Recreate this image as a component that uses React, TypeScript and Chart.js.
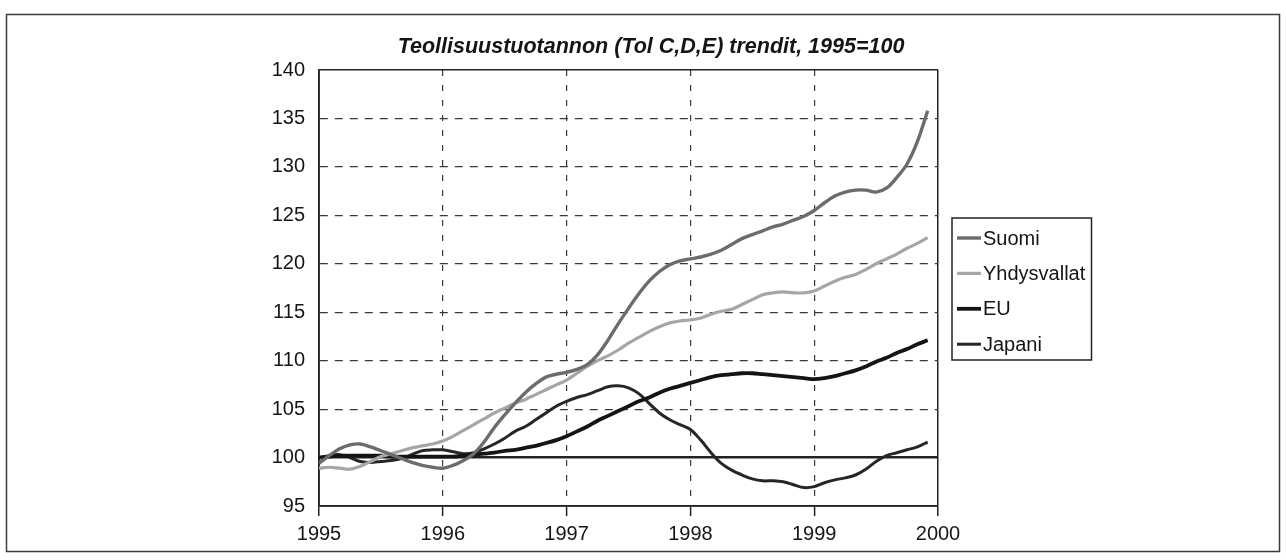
import React, { useEffect, useRef } from 'react';
import { Chart, registerables } from 'chart.js';

Chart.register(...registerables);

// ---- data (monthly trend values, Jan 1995 .. Dec 1999) ----
const startYear = 1995;
const monthsPerYear = 12;

const suomi = [
  99.4, 100.2, 100.9, 101.3, 101.4, 101.1, 100.7, 100.3, 99.9, 99.5, 99.2, 99.0,
  98.9, 99.2, 99.7, 100.4, 101.6, 103.1, 104.4, 105.6, 106.7, 107.6, 108.3, 108.6,
  108.8, 109.1, 109.6, 110.6, 112.1, 113.8, 115.4, 116.9, 118.2, 119.2, 119.9, 120.3,
  120.5, 120.7, 121.0, 121.4, 122.0, 122.6, 123.0, 123.4, 123.8, 124.1, 124.5, 124.9,
  125.5, 126.3, 127.0, 127.4, 127.6, 127.6, 127.4, 127.8, 128.9, 130.3, 132.6, 135.8,
];

const yhdysvallat = [
  98.9, 99.0, 98.9, 98.8, 99.1, 99.6, 100.1, 100.4, 100.7, 101.0, 101.2, 101.4,
  101.7, 102.2, 102.8, 103.4, 104.0, 104.6, 105.1, 105.6, 106.0, 106.5, 107.0, 107.5,
  108.0, 108.7, 109.4, 110.0, 110.5, 111.1, 111.8, 112.4, 113.0, 113.5, 113.9, 114.1,
  114.2, 114.4, 114.8, 115.1, 115.3, 115.8, 116.3, 116.8, 117.0, 117.1, 117.0, 117.0,
  117.2, 117.7, 118.2, 118.6, 118.9, 119.4, 120.0, 120.5, 121.0, 121.6, 122.1, 122.7,
];

const eu = [
  100.0, 100.1, 100.2, 100.2, 100.2, 100.2, 100.2, 100.1, 100.1, 100.1, 100.1, 100.1,
  100.1, 100.1, 100.2, 100.3, 100.4, 100.5, 100.7, 100.8, 101.0, 101.2, 101.5, 101.8,
  102.2, 102.7, 103.2, 103.8, 104.3, 104.8, 105.3, 105.8, 106.2, 106.7, 107.1, 107.4,
  107.7, 108.0, 108.3, 108.5, 108.6, 108.7, 108.7, 108.6, 108.5, 108.4, 108.3, 108.2,
  108.1, 108.2, 108.4, 108.7, 109.0, 109.4, 109.9, 110.3, 110.8, 111.2, 111.7, 112.1,
];

const japani = [
  100.0, 100.2, 100.3, 100.0, 99.6, 99.5, 99.6, 99.7, 99.9, 100.3, 100.7, 100.8,
  100.8, 100.6, 100.4, 100.5, 100.9, 101.4, 102.0, 102.7, 103.2, 103.9, 104.6, 105.3,
  105.8, 106.2, 106.5, 106.9, 107.3, 107.4, 107.2, 106.6, 105.6, 104.6, 103.9, 103.4,
  102.9, 101.8, 100.5, 99.4, 98.7, 98.2, 97.8, 97.6, 97.6, 97.5, 97.2, 96.9,
  97.0, 97.4, 97.7, 97.9, 98.2, 98.8, 99.6, 100.2, 100.5, 100.8, 101.1, 101.6,
];

const seriesNames = ['Suomi', 'Yhdysvallat', 'EU', 'Japani'];
const xTickLabels = ['1995', '1996', '1997', '1998', '1999', '2000'];
const yTickLabels = ['95', '100', '105', '110', '115', '120', '125', '130', '135', '140'];
const titleText = 'Teollisuustuotannon (Tol C,D,E) trendit, 1995=100';
const baseValue = 100;
const yMin = 95;
const yMax = 140;
const xMin = 1995;
const xMax = 2000;

const toPoints = (vals: number[]) =>
  vals.map((v, i) => ({ x: startYear + i / monthsPerYear, y: v }));

function hasFont(name: string): boolean {
  try {
    const c = document.createElement('canvas').getContext('2d');
    if (!c) return false;
    const s = 'Yhdysvallat 1995 Teollisuus';
    c.font = '40px monospace';
    const a = c.measureText(s).width;
    c.font = `40px "${name}", monospace`;
    const b = c.measureText(s).width;
    return Math.abs(a - b) > 0.5;
  } catch (e) {
    return false;
  }
}

export default function App() {
  const canvasRef = useRef<HTMLCanvasElement | null>(null);

  useEffect(() => {
    const canvas = canvasRef.current;
    if (!canvas) return;

    const narrow = hasFont('Liberation Sans Narrow');
    const FONT = narrow
      ? '"Liberation Sans Narrow", "Liberation Sans", Arial, sans-serif'
      : '"Liberation Sans", Arial, Helvetica, sans-serif';
    const tickSize = narrow ? 22.5 : 20;
    const legendSize = narrow ? 23 : 20;
    const titleSize = narrow ? 26 : 21.5;

    const framePlugin = {
      id: 'framePlugin',
      beforeDraw(chart: any) {
        const ctx = chart.ctx as CanvasRenderingContext2D;
        ctx.save();
        ctx.fillStyle = '#ffffff';
        ctx.fillRect(0, 0, chart.width, chart.height);
        ctx.strokeStyle = '#3c3c3c';
        ctx.lineWidth = 1.5;
        ctx.strokeRect(6.5, 14.5, 1273, 537);
        ctx.restore();
      },
      afterDraw(chart: any) {
        const ctx = chart.ctx as CanvasRenderingContext2D;
        ctx.save();
        ctx.font = `italic bold ${titleSize}px ${FONT}`;
        ctx.fillStyle = '#151515';
        ctx.textAlign = 'center';
        ctx.textBaseline = 'alphabetic';
        ctx.fillText(titleText, 651, 53);

        const bx = 952, by = 218, bw = 139.5, bh = 142;
        ctx.fillStyle = '#ffffff';
        ctx.fillRect(bx, by, bw, bh);
        ctx.strokeStyle = '#222';
        ctx.lineWidth = 1.5;
        ctx.strokeRect(bx, by, bw, bh);
        ctx.font = `${legendSize}px ${FONT}`;
        ctx.textAlign = 'left';
        ctx.textBaseline = 'middle';
        chart.data.datasets.forEach((ds: any, i: number) => {
          const y = 238 + i * 35.4;
          ctx.strokeStyle = ds.borderColor;
          ctx.lineWidth = ds.borderWidth;
          ctx.beginPath();
          ctx.moveTo(957, y);
          ctx.lineTo(981, y);
          ctx.stroke();
          ctx.fillStyle = '#151515';
          ctx.fillText(ds.label, 983, y + 1);
        });
        ctx.restore();
      },
    };

    const seriesValues = [suomi, yhdysvallat, eu, japani];
    const colors = ['#6c6c6c', '#a6a6a6', '#141414', '#262626'];
    const widths = [3.4, 3.2, 3.8, 3];

    const yEdge = (v: number | undefined) => v === baseValue || v === yMin || v === yMax;
    const xEdge = (v: number | undefined) => v === xMin || v === xMax;

    const chart = new Chart(canvas, {
      type: 'line',
      data: {
        datasets: seriesValues.map((vals, i) => ({
          label: seriesNames[i],
          data: toPoints(vals),
          borderColor: colors[i],
          backgroundColor: colors[i],
          borderWidth: widths[i],
          pointRadius: 0,
          tension: 0.35,
          fill: false,
        })),
      },
      options: {
        responsive: false,
        animation: false,
        devicePixelRatio: 1,
        layout: { padding: { top: 70, bottom: 14, left: 0, right: 348 } },
        plugins: {
          legend: { display: false },
          title: { display: false },
          tooltip: { enabled: false },
        },
        scales: {
          x: {
            type: 'linear',
            min: xMin,
            max: xMax,
            ticks: {
              stepSize: 1,
              autoSkip: false,
              maxRotation: 0,
              padding: 6,
              color: '#151515',
              font: { family: FONT, size: tickSize, lineHeight: 24 / tickSize },
              callback: (v: any) => xTickLabels[Math.round(Number(v) - xMin)] ?? '',
            },
            grid: {
              color: (c: any) => (xEdge(c.tick?.value) ? '#222' : '#3a3a3a'),
              lineWidth: (c: any) => (xEdge(c.tick?.value) ? 1.5 : 1.2),
              drawTicks: true,
              tickLength: 10,
              tickColor: '#222',
              tickWidth: 1.5,
            },
            border: {
              display: true,
              color: '#222',
              width: 1.8,
              dash: (c: any) => (c.tick && !xEdge(c.tick.value) ? [6, 9] : []),
            },
            afterFit: (s: any) => {
              s.height = 40;
            },
          },
          y: {
            type: 'linear',
            min: yMin,
            max: yMax,
            ticks: {
              stepSize: 5,
              padding: 14,
              color: '#151515',
              font: { family: FONT, size: tickSize },
              callback: (v: any) => yTickLabels[Math.round((Number(v) - yMin) / 5)] ?? '',
            },
            grid: {
              color: (c: any) => (yEdge(c.tick?.value) ? '#222' : '#3a3a3a'),
              lineWidth: (c: any) =>
                c.tick?.value === baseValue ? 2.6 : yEdge(c.tick?.value) ? 1.5 : 1.2,
              drawTicks: false,
            },
            border: {
              display: true,
              color: '#222',
              width: 1.8,
              dash: (c: any) => (c.tick && !yEdge(c.tick.value) ? [8, 7] : []),
            },
            afterFit: (s: any) => {
              s.width = 319;
            },
          },
        },
      },
      plugins: [framePlugin],
    } as any);

    return () => {
      chart.destroy();
    };
  }, []);

  return (
    <div style={{ position: 'absolute', left: 0, top: 0, width: 1286, height: 560 }}>
      <canvas
        ref={canvasRef}
        width={1286}
        height={560}
        style={{ display: 'block', width: 1286, height: 560 }}
      />
    </div>
  );
}
